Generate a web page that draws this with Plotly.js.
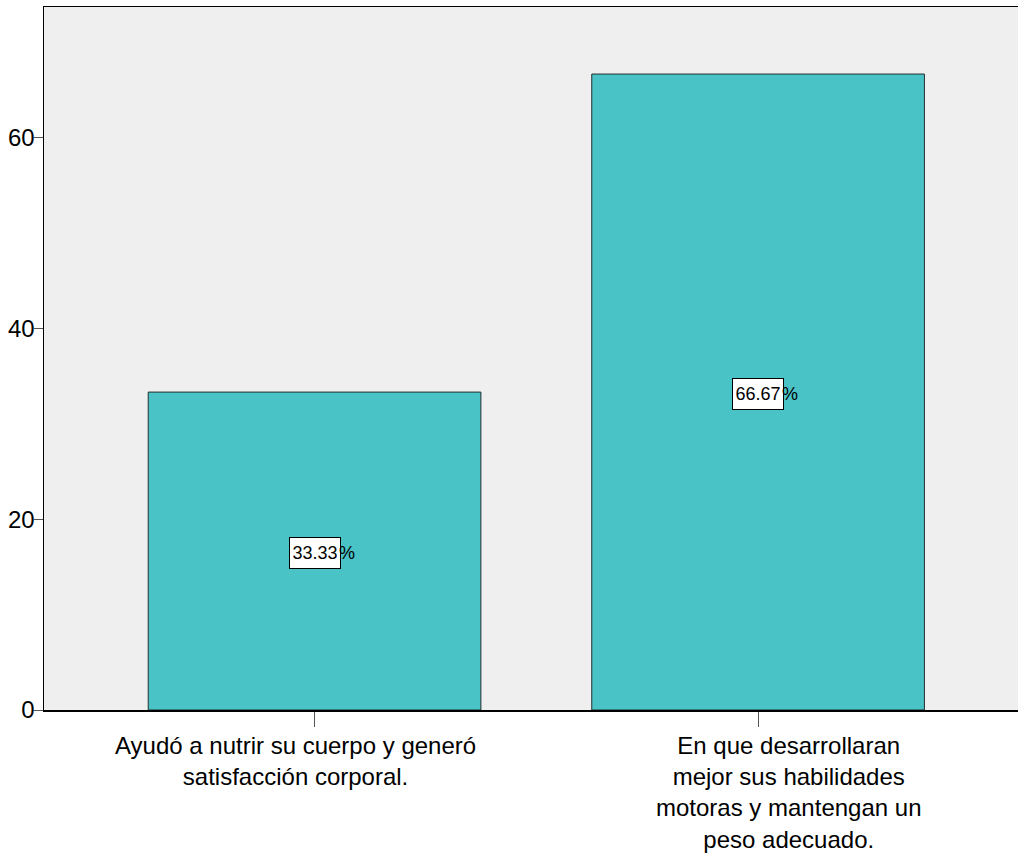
<!DOCTYPE html>
<html>
<head>
<meta charset="utf-8">
<script src="https://cdn.plot.ly/plotly-3.0.1.min.js"></script>
<style>html,body{margin:0;padding:0;background:#fff;}#chart{width:1018px;height:853px;}</style>
</head>
<body>
<div id="chart"></div>
<script>
const categories = [
  "Ayudó a nutrir su cuerpo y generó<br>satisfacción corporal.",
  "En que desarrollaran<br>mejor sus habilidades<br>motoras y mantengan un<br>peso adecuado."
];
const values = [33.33, 66.67];
const yTicks = [0, 20, 40, 60];

const font = "Liberation Sans, Arial, sans-serif";
// horizontal offsets of the wrapped category labels relative to their ticks (px)
const labelShift = [-19, 31];

const trace = {
  type: "bar",
  x: categories,
  y: values,
  width: 0.75,
  marker: {color: "#4AC3C6", line: {color: "#1f2f30", width: 1}},
  hoverinfo: "none"
};

const annotations = [];
values.forEach((v, i) => {
  annotations.push({
    x: categories[i], y: v / 2, xref: "x", yref: "y",
    text: v.toFixed(2), showarrow: false,
    font: {family: font, size: 18, color: "#000"},
    bgcolor: "#ffffff", bordercolor: "#000", borderwidth: 1, borderpad: 3,
    width: 44, height: 24,
    xanchor: "center", yanchor: "middle", yshift: -2
  });
  annotations.push({
    x: categories[i], y: v / 2, xref: "x", yref: "y",
    text: "%", showarrow: false,
    font: {family: font, size: 18, color: "#000"},
    xanchor: "left", yanchor: "middle", xshift: 22, yshift: -2
  });
});
categories.forEach((c, i) => {
  annotations.push({
    x: c, y: 0, xref: "x", yref: "paper",
    text: c, showarrow: false, align: "center",
    font: {family: font, size: 24, color: "#000"},
    xanchor: "center", yanchor: "top", yshift: -20, xshift: labelShift[i]
  });
});

const layout = {
  width: 1018, height: 853,
  margin: {l: 44, r: 0, t: 7, b: 143},
  paper_bgcolor: "#ffffff",
  plot_bgcolor: "#EFEFEF",
  showlegend: false,
  font: {family: font, size: 24, color: "#000"},
  xaxis: {
    type: "category",
    range: [-0.61, 1.586],
    showline: true, linecolor: "#000", linewidth: 1.5, mirror: true,
    ticks: "outside", ticklen: 15, tickcolor: "#555", tickwidth: 1,
    showticklabels: false,
    showgrid: false, zeroline: false,
    fixedrange: true
  },
  yaxis: {
    range: [0, 73.7],
    tickvals: yTicks, ticktext: yTicks.map(String),
    showline: true, linecolor: "#000", linewidth: 1.5,
    ticks: "outside", ticklen: 9, tickcolor: "#555", tickwidth: 1,
    ticklabelstandoff: -6,
    tickfont: {family: font, size: 24, color: "#000"},
    showgrid: false, zeroline: false,
    fixedrange: true
  },
  annotations: annotations
};

Plotly.newPlot("chart", [trace], layout, {displayModeBar: false, staticPlot: true});
</script>
</body>
</html>
